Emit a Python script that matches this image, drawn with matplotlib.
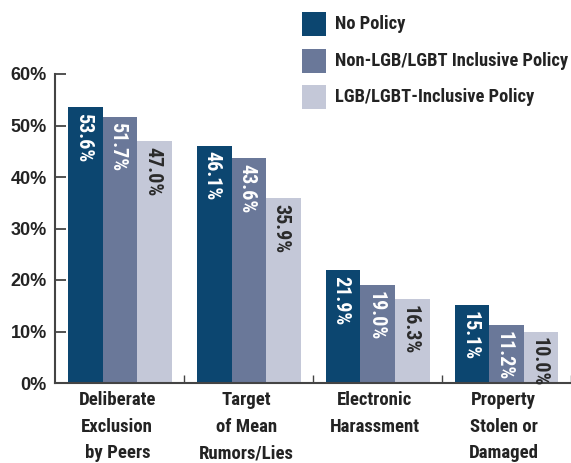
import matplotlib
matplotlib.use("Agg")
import matplotlib.pyplot as plt
import numpy as np
from matplotlib.patches import Rectangle

categories = ["Deliberate\nExclusion\nby Peers", "Target\nof Mean\nRumors/Lies",
              "Electronic\nHarassment", "Property\nStolen or\nDamaged"]
series_names = ["No Policy", "Non-LGB/LGBT Inclusive Policy", "LGB/LGBT-Inclusive Policy"]
no_policy = [53.6, 46.1, 21.9, 15.1]
non_inclusive = [51.7, 43.6, 19.0, 11.2]
inclusive = [47.0, 35.9, 16.3, 10.0]
yticks = [0, 10, 20, 30, 40, 50, 60]

colors = ["#0C4670", "#6A7899", "#C4C8D8"]
label_colors = ["white", "white", "#2A2A2A"]
NARROW = ["Roboto Condensed", "Archivo Narrow", "DejaVu Sans"]
REG = ["Liberation Sans", "DejaVu Sans"]
TXT = "#232323"

fig = plt.figure(figsize=(5.71, 4.63), dpi=100)
ax = fig.add_axes([55 / 571, 80 / 463, 1 - 55 / 571, 309 / 463])

x = np.arange(len(categories))
w = 0.268
for i, vals in enumerate([no_policy, non_inclusive, inclusive]):
    xs = x + (i - 1) * w
    ax.bar(xs, vals, width=w, color=colors[i], linewidth=0)
    for xi, v in zip(xs, vals):
        ax.annotate(f"{v:.1f}%", (xi, v), xytext=(-1.5, -4), textcoords="offset points",
                    rotation=270, ha="center", va="top", color=label_colors[i],
                    fontsize=14.5, fontweight="bold", family=NARROW)

ax.set_xlim(-0.505, 3.5)
ax.set_ylim(0, 60)
ax.set_yticks(yticks)
ax.set_yticklabels([f"{t}%" for t in yticks], family=REG, fontweight="bold",
                   fontsize=13, color=TXT)
ax.set_xticks([0.5, 1.5, 2.5, 3.5])
ax.set_xticklabels([])
ax.tick_params(axis="y", direction="in", length=8, width=1.3, color="#444444", pad=6)
ax.tick_params(axis="x", direction="in", length=6, width=1.0, color="#444444")
for s in ["top", "right"]:
    ax.spines[s].set_visible(False)
for s in ["left", "bottom"]:
    ax.spines[s].set_color("#444444")
    ax.spines[s].set_linewidth(1.5)

for xi, cat in zip(x, categories):
    ax.annotate(cat, (xi, 0), xycoords=("data", "axes fraction"), xytext=(-2, -6),
                textcoords="offset points", ha="center", va="top", fontsize=13.5,
                fontweight="bold", family=NARROW, color=TXT, linespacing=1.6)

# legend
for i, name in enumerate(series_names):
    y0 = 463 - (12 + i * 36.5)
    fig.patches.append(Rectangle((302 / 571, (y0 - 24) / 463), 24 / 571, 24 / 463,
                                 transform=fig.transFigure, color=colors[i], linewidth=0))
    fig.text(335 / 571, (y0 - 12) / 463, name, ha="left", va="center", fontsize=13.3,
             fontweight="bold", family=NARROW, color=TXT)

fig.savefig("out.png", dpi=100)
